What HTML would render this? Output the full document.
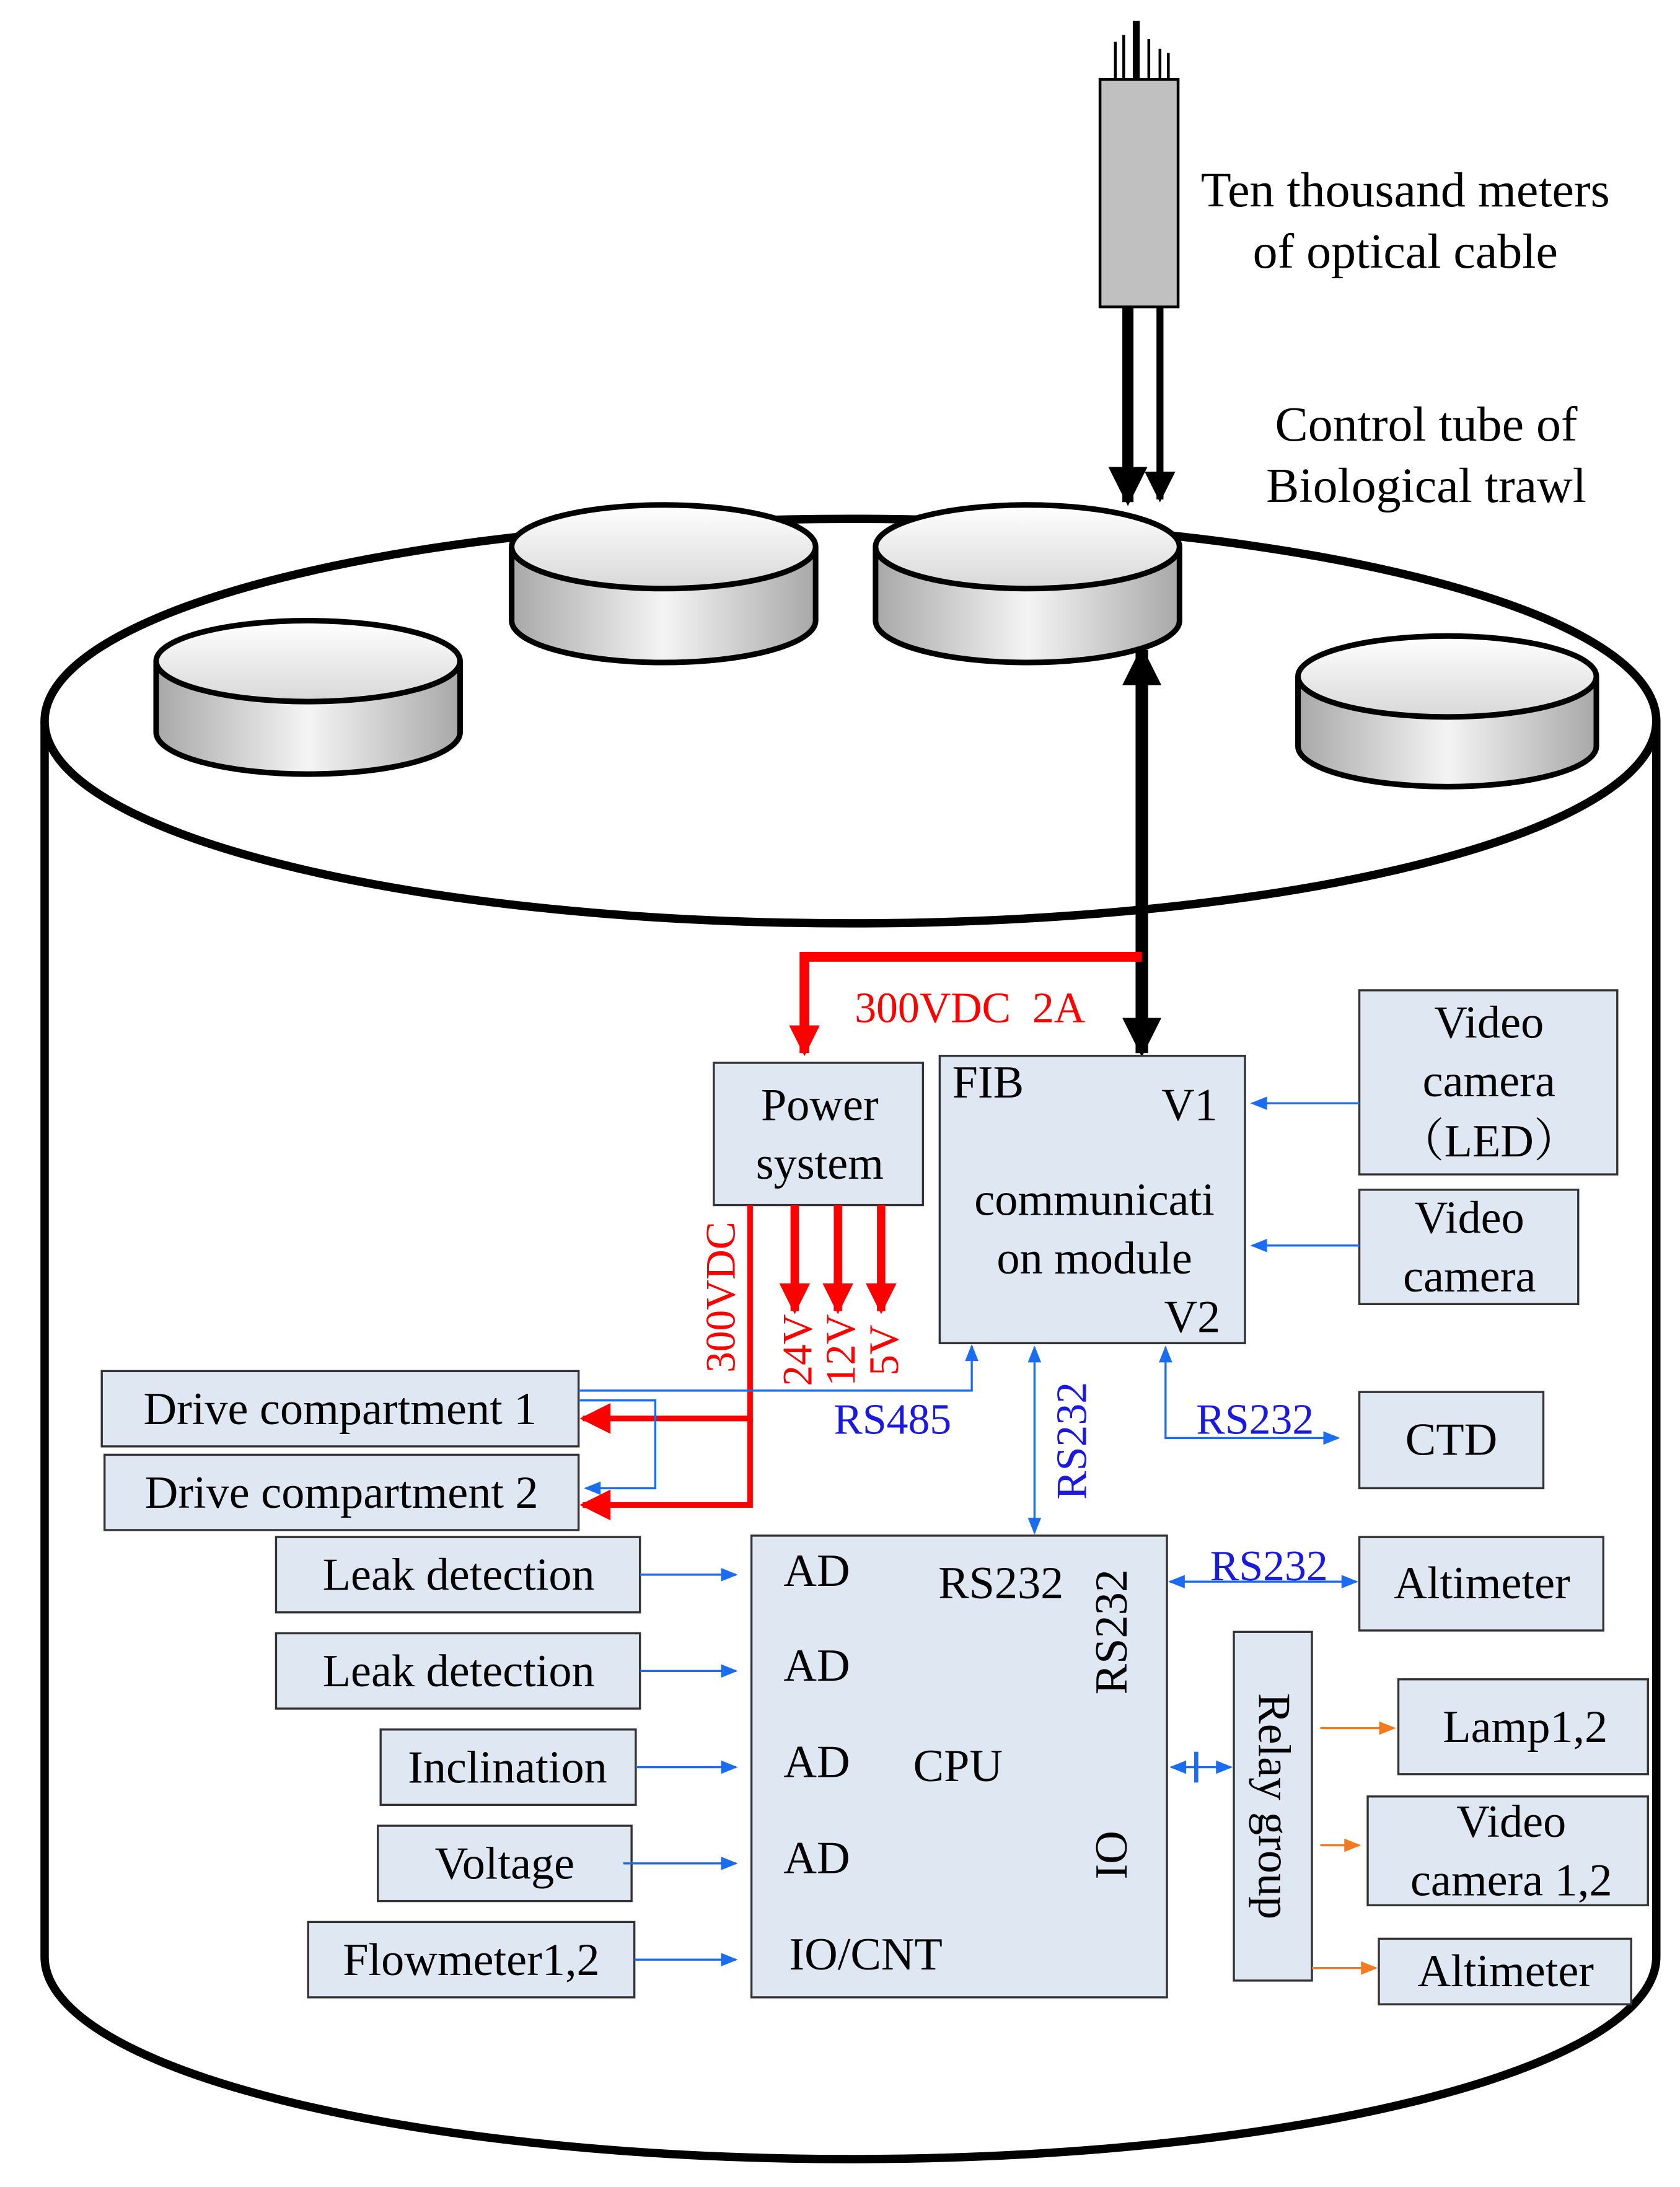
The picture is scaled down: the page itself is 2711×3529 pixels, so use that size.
<!DOCTYPE html>
<html><head><meta charset="utf-8"><style>html,body{margin:0;padding:0;background:#fff}svg{display:block}</style></head><body>
<svg width="2711" height="3529" viewBox="0 0 1205 1568" preserveAspectRatio="none" xmlns="http://www.w3.org/2000/svg" font-family="Liberation Serif, serif">
<defs>
<linearGradient id="side" x1="0" x2="1" y1="0" y2="0"><stop offset="0" stop-color="#a8a8a8"/><stop offset="0.5" stop-color="#f4f4f4"/><stop offset="1" stop-color="#a8a8a8"/></linearGradient>
<linearGradient id="top" x1="0" x2="0" y1="0" y2="1"><stop offset="0" stop-color="#ffffff"/><stop offset="1" stop-color="#d8d8d8"/></linearGradient>
<marker id="bk" viewBox="0 0 10 10" refX="9" refY="5" markerWidth="28" markerHeight="30" orient="auto-start-reverse" markerUnits="userSpaceOnUse"><path d="M0,0L10,5L0,10z" fill="#000"/></marker>
<marker id="bks" viewBox="0 0 10 10" refX="9" refY="5" markerWidth="24" markerHeight="22" orient="auto-start-reverse" markerUnits="userSpaceOnUse"><path d="M0,0L10,5L0,10z" fill="#000"/></marker>
<marker id="rd" viewBox="0 0 10 10" refX="9" refY="5" markerWidth="22" markerHeight="24" orient="auto-start-reverse" markerUnits="userSpaceOnUse"><path d="M0,0L10,5L0,10z" fill="#f00"/></marker>
<marker id="bl" viewBox="0 0 10 10" refX="9" refY="5" markerWidth="18" markerHeight="12" orient="auto-start-reverse" markerUnits="userSpaceOnUse"><path d="M0,1L10,5L0,9z" fill="#1a6cf0"/></marker>
<marker id="or" viewBox="0 0 10 10" refX="9" refY="5" markerWidth="18" markerHeight="12" orient="auto-start-reverse" markerUnits="userSpaceOnUse"><path d="M0,1L10,5L0,9z" fill="#f47a20"/></marker>
</defs>
<path d="M32,517 L32,1403 A578,145 0 0 0 1188,1403 L1188,517" fill="#fff" stroke="#000" stroke-width="6"/>
<ellipse cx="610" cy="517" rx="578" ry="145" fill="#fff" stroke="#000" stroke-width="6"/>
<g stroke="#000" stroke-width="4">
<path d="M112,474 L112,525 A109,30 0 0 0 330,525 L330,474" fill="url(#side)"/><ellipse cx="221" cy="474" rx="109" ry="29" fill="url(#top)"/>
<path d="M367,392 L367,445 A109,30 0 0 0 585,445 L585,392" fill="url(#side)"/><ellipse cx="476" cy="392" rx="109" ry="30" fill="url(#top)"/>
<path d="M628,392 L628,445 A109,30 0 0 0 846,445 L846,392" fill="url(#side)"/><ellipse cx="737" cy="392" rx="109" ry="30" fill="url(#top)"/>
<path d="M931,485 L931,535 A107,29 0 0 0 1145,535 L1145,485" fill="url(#side)"/><ellipse cx="1038" cy="485" rx="107" ry="29" fill="url(#top)"/>
</g>
<g stroke="#000" stroke-width="2"><line x1="800" y1="30" x2="800" y2="57"/><line x1="806" y1="25" x2="806" y2="57"/><line x1="824" y1="28" x2="824" y2="57"/><line x1="832" y1="35" x2="832" y2="57"/><line x1="838" y1="38" x2="838" y2="57"/></g>
<line x1="815" y1="15" x2="815" y2="57" stroke="#000" stroke-width="5"/>
<rect x="789" y="57" width="56" height="163" fill="#c0c0c0" stroke="#000" stroke-width="2"/>
<line x1="809" y1="220" x2="809" y2="360" stroke="#000" stroke-width="8" marker-end="url(#bk)"/>
<line x1="832" y1="220" x2="832" y2="358" stroke="#000" stroke-width="5" marker-end="url(#bks)"/>
<g font-size="35.5" text-anchor="middle" fill="#000">
<text x="1008" y="148">Ten thousand meters</text><text x="1008" y="192">of optical cable</text>
<text x="1023" y="316">Control tube of</text><text x="1023" y="360">Biological trawl</text>
</g>
<line x1="819" y1="466" x2="819" y2="755" stroke="#000" stroke-width="9" marker-start="url(#bk)" marker-end="url(#bk)"/>
<polyline points="819,686 577,686 577,755" fill="none" stroke="#f00" stroke-width="7" marker-end="url(#rd)"/>
<text x="613" y="733" font-size="31" fill="#f00" xml:space="preserve">300VDC  2A</text>
<g fill="#dfe8f2" stroke="#333" stroke-width="1.5">
<rect x="512" y="762" width="150" height="102"/>
<rect x="674" y="757" width="219" height="206"/>
<rect x="975" y="710" width="185" height="132"/>
<rect x="975" y="853" width="157" height="82"/>
<rect x="73" y="983" width="342" height="54"/>
<rect x="75" y="1043" width="340" height="54"/>
<rect x="975" y="998" width="132" height="69"/>
<rect x="539" y="1101" width="298" height="331"/>
<rect x="198" y="1102" width="261" height="54"/>
<rect x="198" y="1171" width="261" height="54"/>
<rect x="273" y="1240" width="183" height="54"/>
<rect x="271" y="1309" width="182" height="54"/>
<rect x="221" y="1378" width="234" height="54"/>
<rect x="975" y="1102" width="175" height="67"/>
<rect x="885" y="1170" width="56" height="250"/>
<rect x="1003" y="1204" width="179" height="68"/>
<rect x="981" y="1288" width="201" height="78"/>
<rect x="989" y="1390" width="181" height="47"/>
</g>
<g font-size="33" fill="#000">
<text x="588" y="803" text-anchor="middle">Power</text><text x="588" y="845" text-anchor="middle">system</text>
<text x="683" y="787">FIB</text><text x="833" y="803">V1</text>
<text x="785" y="871" text-anchor="middle">communicati</text><text x="785" y="913" text-anchor="middle">on module</text>
<text x="835" y="955">V2</text>
<text x="1068" y="744" text-anchor="middle">Video</text><text x="1068" y="786" text-anchor="middle">camera</text><text x="1068" y="829" text-anchor="middle" font-family="Liberation Serif, Noto Serif CJK SC, serif">（LED）</text>
<text x="1054" y="884" text-anchor="middle">Video</text><text x="1054" y="926" text-anchor="middle">camera</text>
<text x="244" y="1021" text-anchor="middle">Drive compartment 1</text>
<text x="245" y="1081" text-anchor="middle">Drive compartment 2</text>
<text x="1041" y="1043" text-anchor="middle">CTD</text>
<text x="329" y="1140" text-anchor="middle">Leak detection</text>
<text x="329" y="1209" text-anchor="middle">Leak detection</text>
<text x="364" y="1278" text-anchor="middle">Inclination</text>
<text x="362" y="1347" text-anchor="middle">Voltage</text>
<text x="338" y="1416" text-anchor="middle">Flowmeter1,2</text>
<text x="562" y="1137">AD</text><text x="562" y="1205">AD</text><text x="562" y="1274">AD</text><text x="562" y="1343">AD</text>
<text x="566" y="1412">IO/CNT</text>
<text x="673" y="1146">RS232</text><text x="655" y="1277">CPU</text>
<text transform="translate(808,1170) rotate(-90)" text-anchor="middle">RS232</text>
<text transform="translate(808,1330) rotate(-90)" text-anchor="middle">IO</text>
<text transform="translate(903,1295) rotate(90)" text-anchor="middle">Relay group</text>
<text x="1063" y="1146" text-anchor="middle">Altimeter</text>
<text x="1094" y="1249" text-anchor="middle">Lamp1,2</text>
<text x="1084" y="1317" text-anchor="middle">Video</text><text x="1084" y="1359" text-anchor="middle">camera 1,2</text>
<text x="1080" y="1424" text-anchor="middle">Altimeter</text>
</g>
<g stroke="#f00" stroke-width="6" fill="none">
<line x1="570" y1="864" x2="570" y2="940" marker-end="url(#rd)"/>
<line x1="601" y1="864" x2="601" y2="940" marker-end="url(#rd)"/>
<line x1="632" y1="864" x2="632" y2="940" marker-end="url(#rd)"/>
<polyline points="538,864 538,1017 418,1017" stroke-width="4" marker-end="url(#rd)"/>
<polyline points="538,1017 538,1079 418,1079" stroke-width="4" marker-end="url(#rd)"/>
</g>
<g font-size="30" fill="#f00">
<text transform="translate(527,930) rotate(-90)" text-anchor="middle">300VDC</text>
<text transform="translate(582,968) rotate(-90)" text-anchor="middle">24V</text>
<text transform="translate(613,968) rotate(-90)" text-anchor="middle">12V</text>
<text transform="translate(644,968) rotate(-90)" text-anchor="middle">5V</text>
</g>
<g stroke="#1a6cf0" stroke-width="1.5" fill="none">
<line x1="975" y1="791" x2="898" y2="791" marker-end="url(#bl)"/>
<line x1="975" y1="893" x2="898" y2="893" marker-end="url(#bl)"/>
<polyline points="415,997 697,997 697,965" marker-end="url(#bl)"/>
<polyline points="415,1004 470,1004 470,1067 420,1067" marker-end="url(#bl)"/>
<line x1="742" y1="966" x2="742" y2="1099" marker-start="url(#bl)" marker-end="url(#bl)"/>
<polyline points="836,966 836,1031 960,1031" marker-start="url(#bl)" marker-end="url(#bl)"/>
<line x1="839" y1="1134" x2="973" y2="1134" marker-start="url(#bl)" marker-end="url(#bl)"/>
<line x1="840" y1="1267" x2="883" y2="1267" marker-start="url(#bl)" marker-end="url(#bl)"/>
<line x1="459" y1="1129" x2="528" y2="1129" marker-end="url(#bl)"/>
<line x1="459" y1="1198" x2="528" y2="1198" marker-end="url(#bl)"/>
<line x1="456" y1="1267" x2="528" y2="1267" marker-end="url(#bl)"/>
<line x1="447" y1="1336" x2="528" y2="1336" marker-end="url(#bl)"/>
<line x1="455" y1="1405" x2="528" y2="1405" marker-end="url(#bl)"/>
</g>
<g stroke="#1a6cf0" stroke-width="3"><line x1="858" y1="1256" x2="858" y2="1278"/></g>
<g font-size="31" fill="#1a1adf">
<text x="598" y="1028">RS485</text>
<text transform="translate(779,1033) rotate(-90)" text-anchor="middle">RS232</text>
<text x="858" y="1028">RS232</text>
<text x="868" y="1133">RS232</text>
</g>
<g stroke="#f47a20" stroke-width="1.5">
<line x1="947" y1="1239" x2="1000" y2="1239" marker-end="url(#or)"/>
<line x1="947" y1="1323" x2="975" y2="1323" marker-end="url(#or)"/>
<line x1="941" y1="1411" x2="987" y2="1411" marker-end="url(#or)"/>
</g>
</svg>
</body></html>
